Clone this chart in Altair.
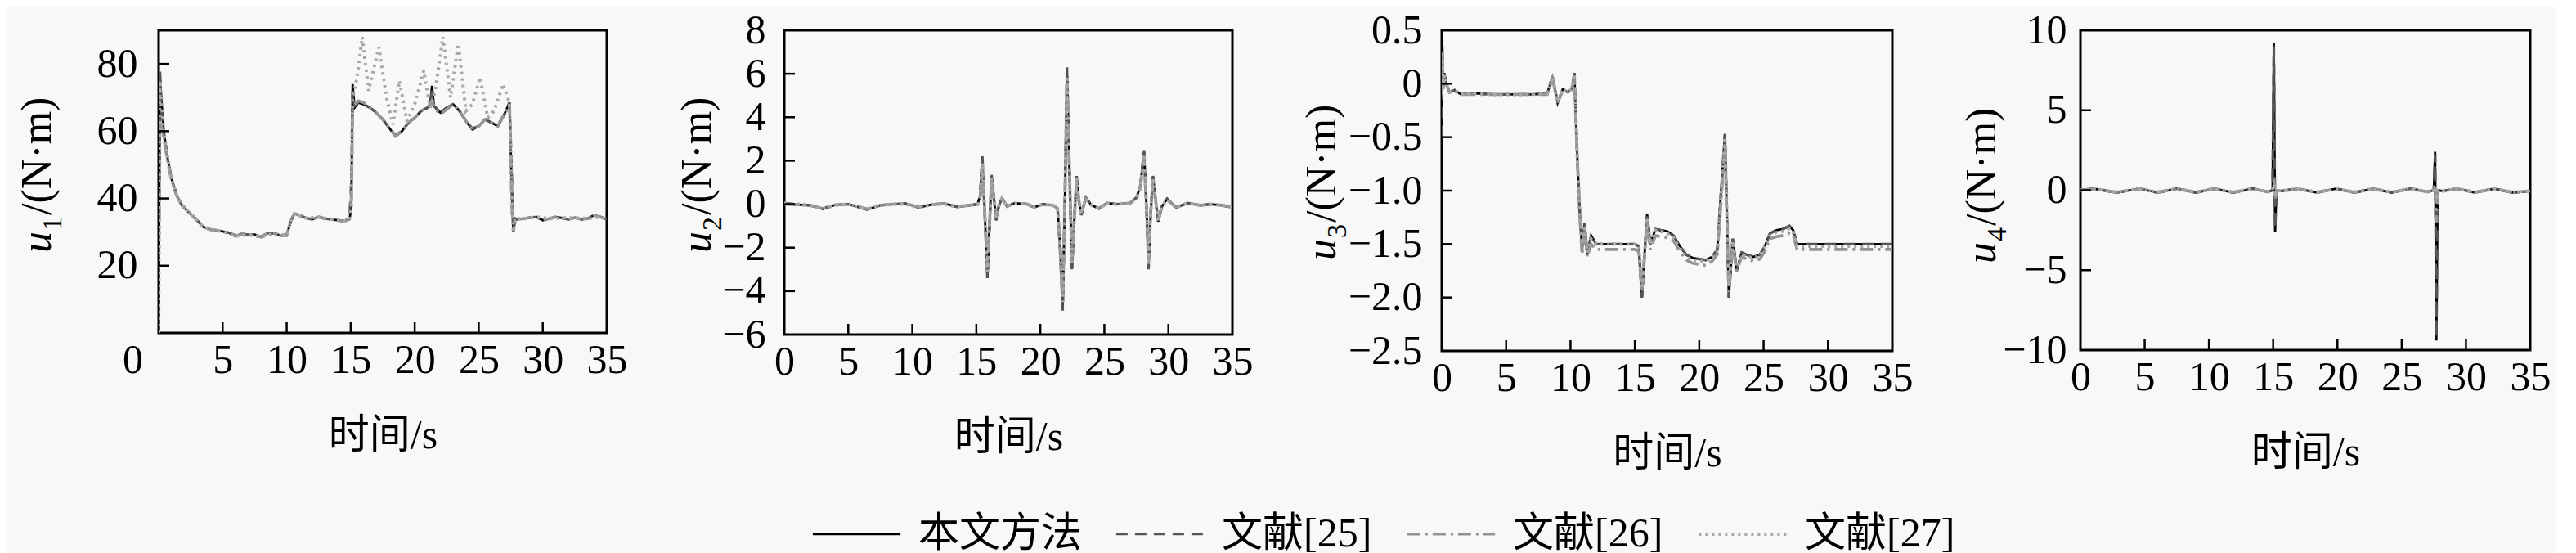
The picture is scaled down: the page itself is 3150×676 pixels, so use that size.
import altair as alt
import pandas as pd

METHODS = ["本文方法", "文献[25]", "文献[26]", "文献[27]"]
COLORS = ["#000000", "#555555", "#939393", "#a8a8a8"]
DASHES = [[1, 0], [14, 9], [16, 6, 3, 6], [3, 5]]
WIDTHS = [2.8, 4, 4, 3]
X_TICKS = [5, 10, 15, 20, 25, 30]

# ---------------- panel 1 : u1 ----------------
T1 = [0, 0.1, 0.2, 0.4, 0.7,
      1.0, 1.4, 1.8, 2.2, 2.6,
      3.0, 3.5, 4.0, 4.5, 5.0,
      5.5, 6.0, 6.5, 7.0, 7.5,
      8.0, 8.5, 9.0, 9.5, 10.0,
      10.3, 10.6, 11.0, 11.5, 12.0,
      12.5, 13.0, 13.5, 14.0, 14.5,
      14.9, 15.05, 15.15, 15.3, 15.6,
      16.0, 16.5, 17.0, 17.5, 18.0,
      18.5, 19.0, 19.5, 20.0, 20.5,
      21.0, 21.2, 21.35, 21.5, 22.0,
      22.5, 23.0, 23.5, 24.0, 24.5,
      25.0, 25.5, 26.0, 26.5, 27.0,
      27.4, 27.6, 27.7, 27.85, 28.0,
      28.5, 29.0, 29.5, 30.0, 30.5,
      31.0, 31.5, 32.0, 32.5, 33.0,
      33.5, 34.0, 34.5, 35.0]
U1_MAIN = [0, 76, 70, 60, 52,
           46, 41, 38, 36.5, 35,
           33.5, 31.5, 30.8, 30.5, 30.2,
           29.8, 28.8, 29.5, 29.2, 29.3,
           28.5, 29.6, 29.6, 29.0, 29.0,
           33.0, 35.5, 35.0, 34.2, 33.8,
           34.5, 34.0, 33.8, 33.5, 33.2,
           33.8, 37, 74, 67, 68.5,
           68, 67, 65.5, 63.5, 61,
           58.5, 60, 62.5, 64, 66,
           67, 68, 73.5, 67.5, 65.5,
           67, 68, 66, 63, 60.5,
           61.5, 63.5, 62.5, 61.5, 65,
           68.5, 40, 30, 34, 33.8,
           34, 34.3, 34.5, 33.5, 34,
           34.5, 34.2, 33.8, 34.3, 33.8,
           34.0, 35, 34.5, 33.8]
U1_25 = [0, 78, 68, 59, 51.5,
         46, 41, 38.2, 36.5, 35.2,
         33.5, 31.8, 30.8, 30.5, 30.2,
         29.8, 29.0, 29.5, 29.2, 29.3,
         28.7, 29.6, 29.6, 29.0, 29.2,
         33.2, 35.5, 35.0, 34.2, 33.8,
         34.5, 34.0, 33.8, 33.5, 33.4,
         33.8, 45, 72, 67.5, 68.5,
         68, 67, 65.5, 63.5, 61,
         58.8, 60, 62.5, 64, 66,
         67, 68, 72, 67.5, 65.5,
         67, 68, 66, 63, 60.8,
         61.5, 63.5, 62.5, 61.8, 65,
         68.5, 45, 31, 34, 33.8,
         34, 34.3, 34.5, 33.7, 34,
         34.5, 34.2, 33.8, 34.3, 33.8,
         34.0, 34.8, 34.5, 33.8]
U1_26 = [60, 62, 62, 58, 51,
         45.5, 41, 38, 36.5, 35,
         33.5, 31.5, 30.8, 30.5, 30.2,
         29.8, 28.8, 29.5, 29.2, 29.3,
         28.5, 29.6, 29.6, 29.0, 29.0,
         33.0, 35.5, 35.0, 34.2, 33.8,
         34.5, 34.0, 33.8, 33.5, 33.2,
         33.8, 40, 66, 68, 69,
         68.5, 67, 65.5, 63.5, 61,
         58.5, 60, 62.5, 64, 66,
         67, 68, 69, 67, 65,
         66.5, 68, 66, 63, 60.5,
         61.5, 63.5, 62.5, 61.5, 65,
         68, 36, 33, 34, 33.8,
         34, 34.3, 34.5, 33.5, 34,
         34.5, 34.2, 33.8, 34.3, 33.8,
         34.0, 35, 34.5, 33.8]
T1_27 = [0, 0.1, 0.2, 0.4, 0.7,
         1.0, 1.4, 1.8, 2.2, 2.6,
         3.0, 3.5, 4.0, 5.0, 6.0,
         7.0, 8.0, 9.0, 10.0, 10.3,
         10.6, 11.5, 12.5, 13.5, 14.5,
         14.9, 15.05, 15.15, 15.5, 15.9,
         16.4, 17.2, 17.8, 18.3, 18.8,
         19.4, 20.0, 20.7, 21.2, 21.6,
         22.2, 22.8, 23.4, 24.0, 24.5,
         25.1, 25.7, 26.2, 26.9, 27.4,
         27.6, 27.7, 27.85, 28.5, 29.5,
         30.5, 31.5, 32.5, 33.5, 34.5,
         35.0]
U1_27 = [0, 75, 70, 60, 52,
         46, 41, 38, 36.5, 35,
         33.5, 31.5, 30.8, 30.2, 28.8,
         29.2, 28.5, 29.6, 29.0, 33.0,
         35.5, 34.2, 34.5, 33.8, 33.2,
         33.8, 37, 70, 76, 88,
         72, 85, 70, 62, 75,
         63, 68, 78, 67, 72,
         88, 70, 86, 66, 68,
         76, 64, 66, 74, 68.5,
         40, 30, 34, 34, 34.5,
         34, 34.2, 34.3, 34.0, 34.5,
         33.8]

# ---------------- panel 2 : u2 ----------------
T2 = [0, 1.0, 2.0, 3.0, 4.0,
      5.0, 6.5, 7.5, 8.5, 9.5,
      10.5, 11.5, 12.5, 13.5, 14.5,
      15.1, 15.3, 15.47, 15.65, 15.87,
      16.03, 16.19, 16.37, 16.55, 16.75,
      17.0, 17.4, 18.0, 19.0, 19.5,
      20.2, 21.0, 21.35, 21.55, 21.75,
      21.92, 22.08, 22.28, 22.47, 22.65,
      22.83, 23.0, 23.2, 23.55, 24.0,
      24.6, 25.2, 26.0, 27.0, 27.5,
      27.8, 28.1, 28.28, 28.45, 28.62,
      28.8, 29.0, 29.2, 29.5, 29.9,
      30.6, 31.5, 32.5, 33.3, 34.2,
      35.0]
U2_MAIN = [0.05, -0.02, -0.05, -0.22, -0.03,
           0.0, -0.25, -0.05, 0.0, 0.03,
           -0.15, -0.02, 0.03, -0.12, -0.05,
           0.0, 0.4, 2.1, -0.3, -3.3,
           -1.0, 1.3, 0.3, -0.7, -0.1,
           0.3, -0.1, 0.05, 0.0, -0.15,
           0.0, -0.05, -0.2, -2.0, -4.7,
           0.2, 6.2, 1.5, -2.9, -0.8,
           1.25, 0.2, -0.5, 0.3, -0.05,
           -0.2, 0.05, 0.0, 0.05, 0.3,
           0.8, 2.4, 0.0, -2.9, -0.4,
           1.25, 0.2, -0.8, -0.1, 0.25,
           -0.15, 0.05, -0.05, 0.0, -0.05,
           -0.15]
U2_25 = [0.05, -0.02, -0.05, -0.2, -0.03,
         0.0, -0.25, -0.05, 0.0, 0.03,
         -0.15, -0.02, 0.03, -0.12, -0.05,
         0.0, 0.4, 2.2, -0.3, -3.4,
         -1.1, 1.35, 0.3, -0.75, -0.1,
         0.3, -0.1, 0.05, 0.0, -0.15,
         0.0, -0.05, -0.2, -2.2, -4.9,
         0.2, 6.3, 1.5, -3.0, -0.8,
         1.3, 0.2, -0.5, 0.3, -0.05,
         -0.2, 0.05, 0.0, 0.05, 0.3,
         0.8, 2.5, 0.0, -3.0, -0.4,
         1.3, 0.2, -0.8, -0.1, 0.25,
         -0.15, 0.05, -0.05, 0.0, -0.05,
         -0.15]
U2_26 = [0.0, -0.02, -0.05, -0.2, -0.03,
         0.0, -0.22, -0.05, 0.0, 0.03,
         -0.13, -0.02, 0.03, -0.1, -0.05,
         0.0, 0.3, 1.8, -0.3, -2.9,
         -0.9, 1.1, 0.3, -0.6, -0.1,
         0.25, -0.1, 0.05, 0.0, -0.12,
         0.0, -0.05, -0.2, -1.8, -4.2,
         0.2, 5.6, 1.3, -2.6, -0.7,
         1.1, 0.2, -0.4, 0.25, -0.05,
         -0.18, 0.05, 0.0, 0.05, 0.25,
         0.7, 2.1, 0.0, -2.6, -0.35,
         1.1, 0.2, -0.7, -0.1, 0.2,
         -0.13, 0.05, -0.05, 0.0, -0.05,
         -0.13]
U2_27 = [0.05, 0.0, -0.05, -0.2, -0.05,
         0.0, -0.22, -0.05, 0.0, 0.0,
         -0.15, -0.02, 0.0, -0.12, -0.05,
         0.0, 0.35, 1.9, -0.2, -3.1,
         -1.0, 1.2, 0.35, -0.6, -0.1,
         0.25, -0.1, 0.05, 0.0, -0.15,
         0.0, -0.05, -0.25, -2.1, -4.5,
         0.3, 5.9, 1.4, -2.8, -0.7,
         1.2, 0.2, -0.45, 0.25, -0.05,
         -0.2, 0.05, 0.0, 0.05, 0.3,
         0.7, 2.3, 0.0, -2.8, -0.4,
         1.2, 0.2, -0.75, -0.1, 0.2,
         -0.15, 0.05, -0.05, 0.0, -0.05,
         -0.15]

# ---------------- panel 3 : u3 ----------------
T3 = [0, 0.05, 0.1, 0.2, 0.35,
      0.6, 1.0, 1.5, 2.5, 4.0,
      5.5, 7.0, 8.2, 8.6, 9.0,
      9.4, 9.8, 10.1, 10.3, 10.5,
      10.7, 10.9, 11.1, 11.3, 11.6,
      12.0, 13.0, 14.0, 15.0, 15.3,
      15.55, 15.75, 15.95, 16.2, 16.6,
      17.0, 17.5, 18.0, 18.5, 19.0,
      19.5, 20.0, 20.5, 21.0, 21.4,
      21.7, 22.0, 22.3, 22.6, 22.9,
      23.3, 23.7, 24.2, 24.7, 25.1,
      25.5, 26.0, 26.5, 27.0, 27.3,
      27.6, 28.0, 29.0, 30.0, 31.0,
      32.0, 33.0, 34.0, 35.0]
U3_MAIN = [-0.1, 0.35, -0.05, 0.1, 0.0,
           -0.08, -0.06, -0.1, -0.09, -0.1,
           -0.1, -0.1, -0.09, 0.07, -0.18,
           -0.05, -0.08, -0.05, 0.1, -0.6,
           -1.15, -1.55, -1.3, -1.6, -1.42,
           -1.5, -1.5, -1.5, -1.5, -1.52,
           -2.0, -1.6, -1.22, -1.5, -1.36,
           -1.37, -1.38, -1.42, -1.52, -1.6,
           -1.63, -1.64, -1.65, -1.62, -1.55,
           -1.0, -0.47, -2.0, -1.45, -1.75,
           -1.58, -1.6, -1.62, -1.6, -1.52,
           -1.4, -1.37, -1.36, -1.33, -1.37,
           -1.5, -1.5, -1.5, -1.5, -1.5,
           -1.5, -1.5, -1.5, -1.5]
U3_25 = [-0.5, 0.3, -0.05, 0.08, 0.0,
         -0.08, -0.06, -0.1, -0.09, -0.1,
         -0.1, -0.1, -0.09, 0.07, -0.18,
         -0.05, -0.08, -0.05, 0.1, -0.6,
         -1.15, -1.55, -1.3, -1.6, -1.42,
         -1.5, -1.5, -1.5, -1.5, -1.52,
         -2.0, -1.6, -1.22, -1.5, -1.36,
         -1.37, -1.38, -1.42, -1.52, -1.6,
         -1.63, -1.64, -1.65, -1.62, -1.55,
         -1.0, -0.47, -2.0, -1.45, -1.75,
         -1.58, -1.6, -1.62, -1.6, -1.52,
         -1.4, -1.37, -1.36, -1.33, -1.37,
         -1.5, -1.5, -1.5, -1.5, -1.5,
         -1.5, -1.5, -1.5, -1.5]
U3_26 = [-0.1, 0.3, -0.05, 0.08, 0.0,
         -0.08, -0.06, -0.1, -0.1, -0.1,
         -0.1, -0.1, -0.1, 0.05, -0.18,
         -0.06, -0.08, -0.06, 0.08, -0.62,
         -1.2, -1.6, -1.35, -1.62, -1.5,
         -1.55, -1.55, -1.55, -1.55, -1.57,
         -1.95, -1.62, -1.3, -1.55, -1.42,
         -1.43, -1.44, -1.47, -1.57, -1.65,
         -1.68, -1.69, -1.7, -1.66, -1.6,
         -1.1, -0.55, -1.95, -1.5, -1.75,
         -1.62, -1.64, -1.66, -1.64, -1.57,
         -1.45, -1.43, -1.42, -1.4, -1.42,
         -1.55, -1.55, -1.55, -1.55, -1.55,
         -1.55, -1.55, -1.55, -1.55]
U3_27 = [-0.1, 0.3, -0.05, 0.08, 0.0,
         -0.08, -0.07, -0.1, -0.09, -0.1,
         -0.1, -0.1, -0.09, 0.06, -0.17,
         -0.05, -0.08, -0.05, 0.09, -0.6,
         -1.15, -1.5, -1.32, -1.58, -1.45,
         -1.5, -1.5, -1.5, -1.5, -1.52,
         -1.9, -1.6, -1.25, -1.5, -1.37,
         -1.38, -1.4, -1.44, -1.54, -1.62,
         -1.65, -1.66, -1.66, -1.63, -1.56,
         -1.05, -0.5, -1.9, -1.47, -1.72,
         -1.6, -1.62, -1.63, -1.61, -1.53,
         -1.42, -1.39, -1.38, -1.36, -1.39,
         -1.52, -1.52, -1.52, -1.52, -1.52,
         -1.52, -1.52, -1.52, -1.52]

# ---------------- panel 4 : u4 ----------------
T4 = [0, 1.0, 2.8, 4.6, 6.0,
      7.5, 9.0, 10.4, 11.9, 13.4,
      14.6, 14.95, 15.05, 15.15, 15.25,
      15.6, 16.9, 18.4, 19.9, 21.3,
      22.8, 24.2, 25.7, 27.0, 27.5,
      27.6, 27.7, 27.8, 28.2, 29.3,
      30.7, 32.2, 33.6, 35.0]
U4_MAIN = [0.0, 0.1, -0.15, 0.1, -0.15,
           0.1, -0.15, 0.1, -0.15, 0.1,
           -0.1, 0.0, 9.2, -2.6, 0.0,
           -0.05, 0.1, -0.15, 0.1, -0.15,
           0.1, -0.15, 0.1, -0.1, 0.0,
           2.4, -9.4, 0.0, -0.05, 0.1,
           -0.15, 0.1, -0.15, -0.05]
U4_25 = [0.0, 0.1, -0.15, 0.1, -0.15,
         0.1, -0.15, 0.1, -0.15, 0.1,
         -0.1, 0.0, 9.0, -2.4, 0.0,
         -0.05, 0.1, -0.15, 0.1, -0.15,
         0.1, -0.15, 0.1, -0.1, 0.0,
         2.2, -9.2, 0.0, -0.05, 0.1,
         -0.15, 0.1, -0.15, -0.05]
U4_26 = [0.0, 0.08, -0.12, 0.08, -0.12,
         0.08, -0.12, 0.08, -0.12, 0.08,
         -0.1, 0.0, 0.7, -0.6, 0.0,
         -0.05, 0.08, -0.12, 0.08, -0.12,
         0.08, -0.12, 0.08, -0.1, 0.0,
         0.3, -2.0, 0.0, -0.05, 0.08,
         -0.12, 0.08, -0.12, -0.05]
U4_27 = [0.0, 0.1, -0.12, 0.1, -0.12,
         0.1, -0.12, 0.1, -0.12, 0.1,
         -0.1, 0.0, 0.4, -0.4, 0.0,
         -0.05, 0.1, -0.12, 0.1, -0.12,
         0.1, -0.12, 0.1, -0.1, 0.0,
         0.2, -0.6, 0.0, -0.05, 0.1,
         -0.12, 0.1, -0.12, -0.05]


def frame(series):
    rows = []
    for m, ts, vs in series:
        assert len(ts) == len(vs), (m, len(ts), len(vs))
        rows += [{"t": a, "v": b, "method": m} for a, b in zip(ts, vs)]
    return pd.DataFrame(rows)


FONT = "Liberation Serif, Noto Sans CJK SC"
SERIF = "Liberation Serif"

LEG = alt.Legend(orient="none", legendX=798, legendY=560, direction="horizontal",
                 title=None, symbolType="stroke", symbolSize=11500,
                 labelFont=FONT, labelFontSize=50,
                 labelColor="black", labelOffset=20, columnPadding=35, labelLimit=0)


def ytitle_marks(sub, title_x, ystart):
    base = alt.Chart(pd.DataFrame({"a": [0]}))
    common = dict(font=SERIF, angle=270, align="left", baseline="bottom", color="black")
    u = base.mark_text(text="u", fontSize=52, fontStyle="italic", **common).encode(
        x=alt.value(title_x), y=alt.value(ystart))
    s = base.mark_text(text=sub, fontSize=34, **common).encode(
        x=alt.value(title_x + 9), y=alt.value(ystart - 27))
    r = base.mark_text(text="/(N·m)", fontSize=52, **common).encode(
        x=alt.value(title_x), y=alt.value(ystart - 46))
    return [u, s, r]


def panel(df, sub, ydom, yvals, w, h, title_x, ystart, ylab_pad, label_expr=None, zero_shift=False):
    xscale = alt.Scale(domain=[0, 35], nice=False, zero=False)
    yscale = alt.Scale(domain=ydom, nice=False, zero=False)
    xargs = dict(values=[0, 5, 10, 15, 20, 25, 30, 35], title="时间/s", ticks=False,
                 domain=False, grid=False, labelPadding=8, titlePadding=42, labelFlush=False)
    if zero_shift:
        xargs["labelOffset"] = {"condition": {"test": "datum.value == 0", "value": -32}, "value": 0}
    xaxis = alt.Axis(**xargs)
    yargs = dict(values=yvals, title=None, ticks=False, domain=False, grid=False,
                 labelPadding=ylab_pad, labelFlush=False)
    if label_expr:
        yargs["labelExpr"] = label_expr
    yaxis = alt.Axis(**yargs)
    layers = []
    for m in METHODS:
        layers.append(
            alt.Chart(df).transform_filter(alt.datum.method == m).mark_line(clip=True).encode(
                x=alt.X("t:Q", scale=xscale, axis=xaxis),
                y=alt.Y("v:Q", scale=yscale, axis=yaxis),
                color=alt.Color("method:N", scale=alt.Scale(domain=METHODS, range=COLORS), legend=LEG),
                strokeDash=alt.StrokeDash("method:N", scale=alt.Scale(domain=METHODS, range=DASHES), legend=LEG),
                strokeWidth=alt.StrokeWidth("method:N", scale=alt.Scale(domain=METHODS, range=WIDTHS), legend=LEG),
            )
        )
    xt = alt.Chart(pd.DataFrame({"t": X_TICKS})).mark_rule(color="black", strokeWidth=2.5).encode(
        x=alt.X("t:Q", scale=xscale, axis=xaxis), y=alt.value(h), y2=alt.value(h - 13))
    inner_y = [v for v in yvals if ydom[0] < v < ydom[1]]
    yt = alt.Chart(pd.DataFrame({"v": inner_y})).mark_rule(color="black", strokeWidth=2.5).encode(
        y=alt.Y("v:Q", scale=yscale, axis=yaxis), x=alt.value(0), x2=alt.value(13))
    return alt.layer(*layers, xt, yt, *ytitle_marks(sub, title_x, ystart)).properties(width=w, height=h)


def spacer(w):
    return alt.Chart(pd.DataFrame({"a": [0]})).mark_point(opacity=0).encode(
        x=alt.X("a:Q", axis=None), y=alt.Y("a:Q", axis=None)
    ).properties(width=w, height=10, view=alt.ViewBackground(stroke=None))


df1 = frame([(METHODS[0], T1, U1_MAIN), (METHODS[1], T1, U1_25),
             (METHODS[2], T1, U1_26), (METHODS[3], T1_27, U1_27)])
df2 = frame([(METHODS[0], T2, U2_MAIN), (METHODS[1], T2, U2_25),
             (METHODS[2], T2, U2_26), (METHODS[3], T2, U2_27)])
df3 = frame([(METHODS[0], T3, U3_MAIN), (METHODS[1], T3, U3_25),
             (METHODS[2], T3, U3_26), (METHODS[3], T3, U3_27)])
df4 = frame([(METHODS[0], T4, U4_MAIN), (METHODS[1], T4, U4_25),
             (METHODS[2], T4, U4_26), (METHODS[3], T4, U4_27)])

p1 = panel(df1, "1", [0, 90], [20, 40, 60, 80], 548, 370, -121, 272, 26, zero_shift=True)
p2 = panel(df2, "2", [-6, 8], [-6, -4, -2, 0, 2, 4, 6, 8], 548, 372, -79, 272, 23)
p3 = panel(df3, "3", [-2.5, 0.5], [-2.5, -2.0, -1.5, -1.0, -0.5, 0, 0.5], 551, 392, -119, 281, 24,
           label_expr="datum.value == 0 ? '0' : format(datum.value, '.1f')")
p4 = panel(df4, "4", [-10, 10], [-10, -5, 0, 5, 10], 550, 391, -93, 285, 17)

chart = alt.hconcat(p1, spacer(217), p2, spacer(256), p3, spacer(230), p4,
                    spacing=0, bounds="flush").properties(
    padding={"left": 10, "top": 2, "right": 5, "bottom": 0},
    background="#f8f8f8",
).configure_view(stroke="black", strokeWidth=3).configure_axis(
    labelFont=FONT, labelFontSize=50, labelColor="black",
    titleFont=FONT, titleFontSize=50, titleFontWeight="normal", titleColor="black",
)

chart.save("out.html", embed_options={"renderer": "svg", "actions": False})
